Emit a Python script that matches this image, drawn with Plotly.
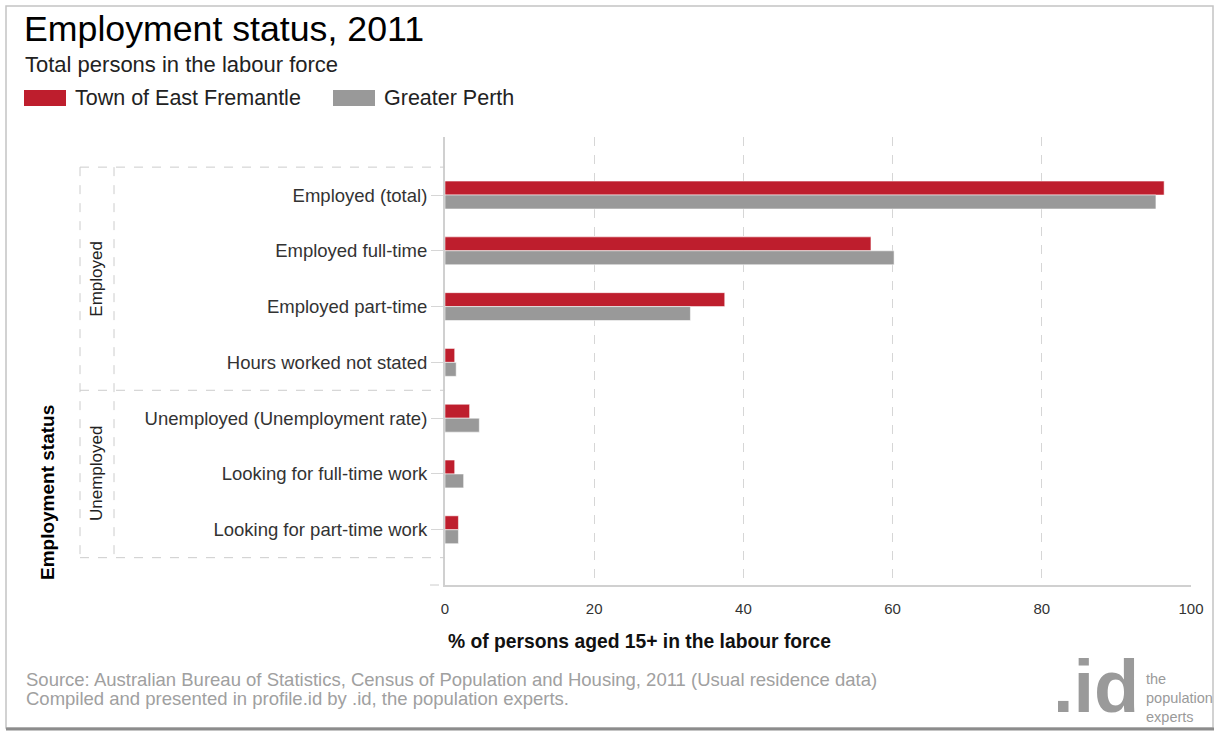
import plotly.graph_objects as go

# ---------------- data ----------------
categories = [
    "Employed (total)",
    "Employed full-time",
    "Employed part-time",
    "Hours worked not stated",
    "Unemployed (Unemployment rate)",
    "Looking for full-time work",
    "Looking for part-time work",
]
east_fremantle = [96.4, 57.1, 37.5, 1.3, 3.3, 1.3, 1.8]
greater_perth = [95.3, 60.2, 32.9, 1.5, 4.6, 2.5, 1.8]
series_names = ["Town of East Fremantle", "Greater Perth"]
x_ticks = [0, 20, 40, 60, 80, 100]
groups = ["Employed", "Unemployed"]
group_spans = [(0, 3), (4, 6)]

# ---------------- style ----------------
RED = "#BE1E2D"
GREY = "#999999"
FONT = "Liberation Sans, Arial, sans-serif"
W, H = 1217, 731
L, R, T, B = 445, 1191, 137, 585


def fx(p):
    return (p - L) / (R - L)


def fy(p):
    return (B - p) / (B - T)


ypos = list(range(len(categories)))

fig = go.Figure()
fig.add_trace(go.Bar(
    y=ypos, x=east_fremantle, orientation="h", name=series_names[0],
    marker=dict(color=RED, line=dict(color="rgba(255,255,255,0.55)", width=1)),
    showlegend=False, hoverinfo="x",
))
fig.add_trace(go.Bar(
    y=ypos, x=greater_perth, orientation="h", name=series_names[1],
    marker=dict(color=GREY, line=dict(color="rgba(255,255,255,0.55)", width=1)),
    showlegend=False, hoverinfo="x",
))

shapes = []
annotations = []

# outer border
shapes.append(dict(type="rect", xref="paper", yref="paper",
                   x0=fx(6), x1=fx(1213), y0=fy(6), y1=fy(728),
                   line=dict(color="#c4c4c4", width=1.5)))
shapes.append(dict(type="line", xref="paper", yref="paper",
                   x0=fx(6), x1=fx(1214), y0=fy(729), y1=fy(729),
                   line=dict(color="#8c8c8c", width=3)))

# group boxes (dashed)
dash_line = dict(color="#cccccc", width=1, dash="dash")
for yv in [-0.5, 3.5, 6.5]:
    shapes.append(dict(type="line", xref="paper", yref="y",
                       x0=fx(80), x1=0, y0=yv, y1=yv, line=dash_line))
for xp in [80, 114]:
    shapes.append(dict(type="line", xref="paper", yref="y",
                       x0=fx(xp), x1=fx(xp), y0=-0.5, y1=6.5, line=dash_line))
# little extension of x axis line to the left
shapes.append(dict(type="line", xref="paper", yref="paper",
                   x0=fx(430), x1=0, y0=0, y1=0, line=dash_line))

for name, (a, b) in zip(groups, group_spans):
    annotations.append(dict(text=name, xref="paper", yref="y",
                            x=fx(97), y=(a + b) / 2, textangle=-90,
                            showarrow=False, xanchor="center", yanchor="middle",
                            font=dict(family=FONT, size=17, color="#222222")))

annotations.append(dict(text="<b>Employment status</b>", xref="paper", yref="paper",
                        x=fx(47), y=fy(493), textangle=-90, showarrow=False,
                        xanchor="center", yanchor="middle",
                        font=dict(family=FONT, size=19, color="#000000")))

# title & subtitle
annotations.append(dict(text="Employment status, 2011", xref="paper", yref="paper",
                        x=fx(22), y=fy(29), showarrow=False, xanchor="left", yanchor="middle",
                        font=dict(family=FONT, size=35.7, color="#000000")))
annotations.append(dict(text="Total persons in the labour force", xref="paper", yref="paper",
                        x=fx(23), y=fy(65), showarrow=False, xanchor="left", yanchor="middle",
                        font=dict(family=FONT, size=22, color="#222222")))

# legend (manual)
legend_items = [(24, 73, RED, series_names[0]), (333, 382, GREY, series_names[1])]
for sx, tx, col, name in legend_items:
    shapes.append(dict(type="rect", xref="paper", yref="paper",
                       x0=fx(sx), x1=fx(sx + 42), y0=fy(90), y1=fy(106),
                       fillcolor=col, line=dict(width=0)))
    annotations.append(dict(text=name, xref="paper", yref="paper",
                            x=fx(tx), y=fy(98), showarrow=False, xanchor="left", yanchor="middle",
                            font=dict(family=FONT, size=21.5, color="#222222")))

# x axis title
annotations.append(dict(text="<b>% of persons aged 15+ in the labour force</b>",
                        xref="paper", yref="paper", x=fx(446), y=fy(641),
                        showarrow=False, xanchor="left", yanchor="middle",
                        font=dict(family=FONT, size=19.3, color="#111111")))

# footer
annotations.append(dict(text="Source: Australian Bureau of Statistics, Census of Population and Housing, 2011 (Usual residence data)",
                        xref="paper", yref="paper", x=fx(24), y=fy(679),
                        showarrow=False, xanchor="left", yanchor="middle",
                        font=dict(family=FONT, size=18.5, color="#a0a0a0")))
annotations.append(dict(text="Compiled and presented in profile.id by .id, the population experts.",
                        xref="paper", yref="paper", x=fx(24), y=fy(698),
                        showarrow=False, xanchor="left", yanchor="middle",
                        font=dict(family=FONT, size=18.5, color="#a0a0a0")))

# logo
annotations.append(dict(text="<b>.id</b>", xref="paper", yref="paper",
                        x=fx(1141), y=fy(730), showarrow=False, xanchor="right", yanchor="bottom",
                        font=dict(family=FONT, size=74, color="#9a9a9a", weight="bold")))
for txt, yy in [("the", 679), ("population", 698), ("experts", 717)]:
    annotations.append(dict(text=txt, xref="paper", yref="paper",
                            x=fx(1144), y=fy(yy), showarrow=False, xanchor="left", yanchor="middle",
                            font=dict(family=FONT, size=14.5, color="#9a9a9a")))

fig.update_layout(
    width=W, height=H,
    margin=dict(l=L, r=W - R, t=T, b=H - B, pad=0),
    paper_bgcolor="white", plot_bgcolor="white",
    barmode="group", bargap=0.5, bargroupgap=0,
    font=dict(family=FONT, color="#333333"),
    shapes=shapes, annotations=annotations,
    showlegend=False,
)
fig.update_xaxes(
    range=[0, 100], tickvals=x_ticks, ticktext=[str(v) for v in x_ticks],
    showgrid=True, gridcolor="#d6d6d6", griddash="dash", gridwidth=1,
    showline=True, linecolor="#d0d0d0", linewidth=2,
    zeroline=False, ticks="outside", ticklen=9, tickcolor="rgba(0,0,0,0)",
    tickfont=dict(family=FONT, size=15, color="#333333"),
)
fig.update_yaxes(
    range=[6.99, -1.04], tickvals=ypos, ticktext=categories,
    showgrid=False, zeroline=False,
    showline=True, linecolor="#d0d0d0", linewidth=2,
    ticks="outside", ticklen=12, tickcolor="#d6d6d6", tickwidth=1,
    tickfont=dict(family=FONT, size=18.5, color="#333333"),
)

fig.write_html("out.html")
